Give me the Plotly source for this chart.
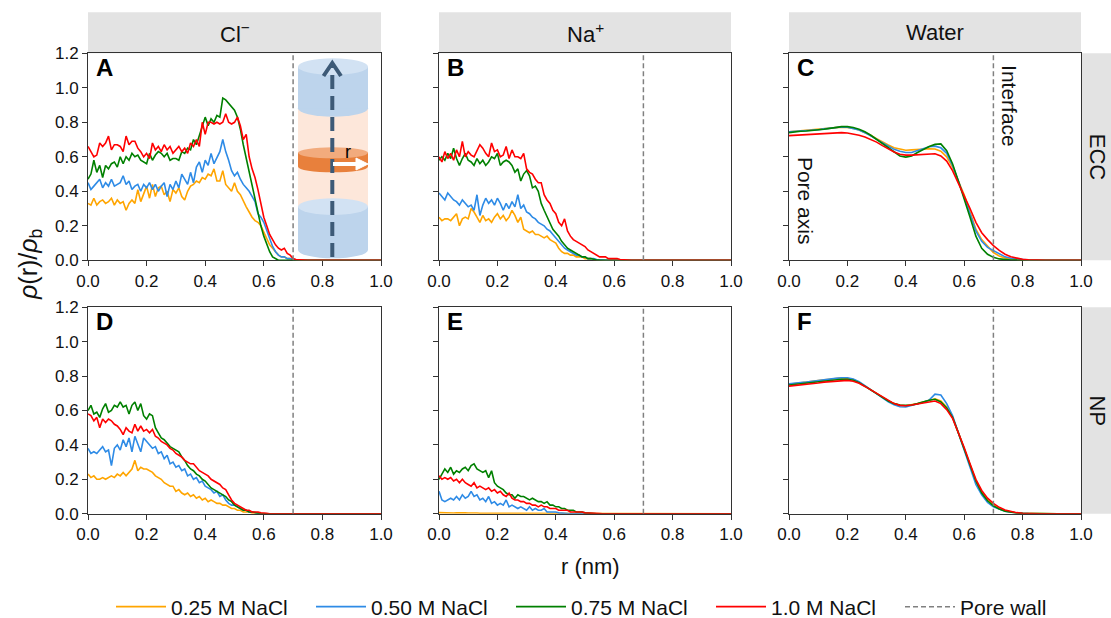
import numpy as np
import plotly.graph_objects as go

# ---------------- data ----------------
R_ION = np.round(np.arange(0, 101) * 0.01, 2)   # r (nm) grid for ion profiles
R_WAT = np.round(np.arange(0, 51) * 0.02, 2)    # r (nm) grid for water profiles
PORE_WALL = 0.7
X_TICKS = [0.0, 0.2, 0.4, 0.6, 0.8, 1.0]
Y_TICKS = [0.0, 0.2, 0.4, 0.6, 0.8, 1.0, 1.2]

SERIES = ["0.25 M NaCl", "0.50 M NaCl", "0.75 M NaCl", "1.0 M NaCl"]
COLORS = ["#FFA500", "#2E8BE6", "#008000", "#FF0000"]
COL_TITLES = ["Cl<sup>−</sup>", "Na<sup>+</sup>", "Water"]
ROW_TITLES = ["ECC", "NP"]
PANEL_LETTERS = ["A", "B", "C", "D", "E", "F"]

# A: Cl- , ECC
A_025 = [0.33, 0.32, 0.36, 0.32, 0.34, 0.35, 0.33, 0.34, 0.36, 0.32,
         0.35, 0.33, 0.34, 0.29, 0.33, 0.35, 0.33, 0.41, 0.34, 0.38,
         0.43, 0.36, 0.44, 0.37, 0.42, 0.43, 0.38, 0.40, 0.34, 0.41,
         0.39, 0.42, 0.37, 0.35, 0.40, 0.43, 0.44, 0.46, 0.45, 0.48,
         0.47, 0.50, 0.49, 0.53, 0.46, 0.46, 0.52, 0.44, 0.42, 0.40,
         0.45, 0.40, 0.38, 0.34, 0.31, 0.28, 0.25, 0.23, 0.22, 0.20,
         0.16, 0.12, 0.09, 0.07, 0.05, 0.03, 0.02, 0.02, 0.01, 0.01,
         0.005, 0.003, 0.002, 0.001, 0, 0, 0, 0, 0, 0,
         0, 0, 0, 0, 0, 0, 0, 0, 0, 0,
         0, 0, 0, 0, 0, 0, 0, 0, 0, 0, 0]
A_050 = [0.45, 0.41, 0.43, 0.45, 0.47, 0.42, 0.45, 0.43, 0.47, 0.43,
         0.44, 0.45, 0.49, 0.44, 0.46, 0.41, 0.43, 0.44, 0.40, 0.44,
         0.42, 0.45, 0.41, 0.44, 0.40, 0.43, 0.45, 0.37, 0.44, 0.41,
         0.46, 0.42, 0.50, 0.47, 0.44, 0.51, 0.45, 0.54, 0.57, 0.51,
         0.58, 0.55, 0.62, 0.56, 0.60, 0.63, 0.70, 0.63, 0.58, 0.52,
         0.49, 0.51, 0.47, 0.44, 0.42, 0.40, 0.37, 0.34, 0.27, 0.25,
         0.22, 0.17, 0.12, 0.08, 0.05, 0.03, 0.02, 0.02, 0.01, 0.01,
         0.005, 0.002, 0, 0, 0, 0, 0, 0, 0, 0,
         0, 0, 0, 0, 0, 0, 0, 0, 0, 0,
         0, 0, 0, 0, 0, 0, 0, 0, 0, 0, 0]
A_075 = [0.47, 0.50, 0.58, 0.51, 0.55, 0.48, 0.55, 0.53, 0.56, 0.57,
         0.54, 0.60, 0.56, 0.60, 0.58, 0.62, 0.60, 0.61, 0.58, 0.57,
         0.56, 0.62, 0.58, 0.61, 0.63, 0.62, 0.60, 0.62, 0.58, 0.59,
         0.59, 0.58, 0.63, 0.62, 0.65, 0.64, 0.70, 0.67, 0.72, 0.78,
         0.83, 0.78, 0.82, 0.80, 0.84, 0.83, 0.94, 0.93, 0.91, 0.89,
         0.87, 0.83, 0.76, 0.67, 0.59, 0.51, 0.43, 0.36, 0.27, 0.20,
         0.14, 0.09, 0.05, 0.02, 0.01, 0, 0, 0, 0, 0,
         0, 0, 0, 0, 0, 0, 0, 0, 0, 0,
         0, 0, 0, 0, 0, 0, 0, 0, 0, 0,
         0, 0, 0, 0, 0, 0, 0, 0, 0, 0, 0]
A_100 = [0.66, 0.63, 0.60, 0.61, 0.68, 0.66, 0.68, 0.72, 0.64, 0.67,
         0.67, 0.66, 0.63, 0.72, 0.67, 0.69, 0.69, 0.65, 0.63, 0.60,
         0.62, 0.59, 0.68, 0.64, 0.66, 0.63, 0.67, 0.64, 0.66, 0.62,
         0.64, 0.66, 0.63, 0.65, 0.62, 0.68, 0.66, 0.70, 0.66, 0.80,
         0.73, 0.80, 0.80, 0.79, 0.80, 0.79, 0.80, 0.85, 0.80, 0.79,
         0.80, 0.83, 0.78, 0.70, 0.73, 0.60, 0.53, 0.48, 0.41, 0.33,
         0.25, 0.20, 0.15, 0.12, 0.09, 0.07, 0.06, 0.07, 0.04, 0.03,
         0.01, 0.005, 0.003, 0.002, 0.001, 0, 0, 0, 0, 0,
         0, 0, 0, 0, 0, 0, 0, 0, 0, 0,
         0, 0, 0, 0, 0, 0, 0, 0, 0, 0, 0]

# B: Na+ , ECC
B_025 = [0.25, 0.23, 0.24, 0.24, 0.23, 0.25, 0.27, 0.20, 0.24, 0.25,
         0.24, 0.30, 0.28, 0.25, 0.22, 0.26, 0.23, 0.24, 0.22, 0.25,
         0.27, 0.24, 0.26, 0.23, 0.25, 0.29, 0.26, 0.22, 0.25, 0.18,
         0.17, 0.16, 0.17, 0.15, 0.15, 0.14, 0.13, 0.14, 0.12, 0.11,
         0.10, 0.07, 0.05, 0.04, 0.04, 0.03, 0.03, 0.02, 0.02, 0.02,
         0.01, 0.01, 0.01, 0.005, 0.003, 0.002, 0.001, 0, 0, 0,
         0, 0, 0, 0, 0, 0, 0, 0, 0, 0,
         0, 0, 0, 0, 0, 0, 0, 0, 0, 0,
         0, 0, 0, 0, 0, 0, 0, 0, 0, 0,
         0, 0, 0, 0, 0, 0, 0, 0, 0, 0, 0]
B_050 = [0.39, 0.37, 0.35, 0.39, 0.37, 0.35, 0.34, 0.32, 0.35, 0.33,
         0.31, 0.32, 0.29, 0.38, 0.26, 0.32, 0.36, 0.33, 0.35, 0.32,
         0.36, 0.33, 0.29, 0.33, 0.30, 0.34, 0.31, 0.38, 0.30, 0.32,
         0.28, 0.27, 0.25, 0.24, 0.22, 0.21, 0.20, 0.18, 0.17, 0.15,
         0.13, 0.11, 0.09, 0.07, 0.06, 0.05, 0.04, 0.03, 0.03, 0.02,
         0.02, 0.01, 0.01, 0.01, 0.005, 0.003, 0.001, 0, 0, 0,
         0, 0, 0, 0, 0, 0, 0, 0, 0, 0,
         0, 0, 0, 0, 0, 0, 0, 0, 0, 0,
         0, 0, 0, 0, 0, 0, 0, 0, 0, 0,
         0, 0, 0, 0, 0, 0, 0, 0, 0, 0, 0]
B_075 = [0.58, 0.60, 0.58, 0.62, 0.59, 0.65, 0.59, 0.55, 0.59, 0.62,
         0.58, 0.57, 0.55, 0.59, 0.56, 0.58, 0.55, 0.57, 0.60, 0.59,
         0.62, 0.55, 0.57, 0.58, 0.57, 0.55, 0.51, 0.53, 0.46, 0.50,
         0.52, 0.49, 0.42, 0.43, 0.40, 0.33, 0.29, 0.25, 0.22, 0.18,
         0.16, 0.14, 0.11, 0.09, 0.07, 0.06, 0.05, 0.04, 0.03, 0.02,
         0.02, 0.01, 0.01, 0.005, 0.002, 0.001, 0, 0, 0, 0,
         0, 0, 0, 0, 0, 0, 0, 0, 0, 0,
         0, 0, 0, 0, 0, 0, 0, 0, 0, 0,
         0, 0, 0, 0, 0, 0, 0, 0, 0, 0,
         0, 0, 0, 0, 0, 0, 0, 0, 0, 0, 0]
B_100 = [0.60, 0.57, 0.63, 0.59, 0.62, 0.58, 0.64, 0.60, 0.69, 0.60,
         0.63, 0.61, 0.60, 0.64, 0.67, 0.65, 0.62, 0.60, 0.68, 0.63,
         0.64, 0.60, 0.61, 0.66, 0.59, 0.64, 0.60, 0.60, 0.59, 0.62,
         0.53, 0.51, 0.50, 0.47, 0.45, 0.45, 0.38, 0.35, 0.33, 0.29,
         0.27, 0.22, 0.20, 0.24, 0.17, 0.14, 0.12, 0.11, 0.10, 0.09,
         0.08, 0.06, 0.05, 0.04, 0.03, 0.02, 0.02, 0.02, 0.01, 0.01,
         0.01, 0.01, 0.005, 0.003, 0.001, 0, 0, 0, 0, 0,
         0, 0, 0, 0, 0, 0, 0, 0, 0, 0,
         0, 0, 0, 0, 0, 0, 0, 0, 0, 0,
         0, 0, 0, 0, 0, 0, 0, 0, 0, 0, 0]

# C: Water , ECC (0.02 nm grid)
C_025 = [0.745, 0.748, 0.750, 0.752, 0.755, 0.758, 0.763, 0.766, 0.770, 0.772,
         0.770, 0.765, 0.755, 0.740, 0.725, 0.705, 0.685, 0.668, 0.652, 0.643,
         0.638, 0.640, 0.643, 0.645, 0.647, 0.645, 0.632, 0.600, 0.540, 0.460,
         0.380, 0.280, 0.180, 0.120, 0.080, 0.045, 0.025, 0.014, 0.008, 0.004,
         0.002, 0.001, 0, 0, 0, 0, 0, 0, 0, 0, 0]
C_050 = [0.745, 0.747, 0.750, 0.752, 0.754, 0.757, 0.762, 0.765, 0.770, 0.773,
         0.771, 0.765, 0.755, 0.740, 0.720, 0.700, 0.680, 0.660, 0.643, 0.632,
         0.625, 0.625, 0.635, 0.648, 0.658, 0.662, 0.652, 0.620, 0.550, 0.460,
         0.370, 0.270, 0.170, 0.110, 0.075, 0.055, 0.035, 0.020, 0.012, 0.007,
         0.003, 0.001, 0, 0, 0, 0, 0, 0, 0, 0, 0]
C_075 = [0.740, 0.745, 0.748, 0.750, 0.752, 0.755, 0.760, 0.765, 0.770, 0.775,
         0.775, 0.770, 0.760, 0.745, 0.725, 0.700, 0.675, 0.650, 0.625, 0.605,
         0.598, 0.605, 0.625, 0.645, 0.660, 0.672, 0.675, 0.635, 0.560, 0.460,
         0.360, 0.250, 0.140, 0.070, 0.035, 0.017, 0.008, 0.004, 0.002, 0.001,
         0, 0, 0, 0, 0, 0, 0, 0, 0, 0, 0]
C_100 = [0.723, 0.725, 0.727, 0.728, 0.730, 0.733, 0.735, 0.737, 0.740, 0.740,
         0.738, 0.733, 0.725, 0.715, 0.700, 0.685, 0.665, 0.645, 0.628, 0.615,
         0.610, 0.610, 0.612, 0.615, 0.618, 0.618, 0.605, 0.575, 0.520, 0.450,
         0.380, 0.300, 0.220, 0.160, 0.120, 0.085, 0.057, 0.035, 0.020, 0.011,
         0.006, 0.003, 0.001, 0, 0, 0, 0, 0, 0, 0, 0]

# D: Cl- , NP
D_025 = [0.23, 0.21, 0.22, 0.20, 0.20, 0.21, 0.20, 0.21, 0.22, 0.21,
         0.23, 0.22, 0.24, 0.22, 0.24, 0.26, 0.31, 0.25, 0.27, 0.26,
         0.26, 0.25, 0.24, 0.22, 0.21, 0.20, 0.18, 0.17, 0.16, 0.16,
         0.13, 0.14, 0.12, 0.11, 0.12, 0.10, 0.11, 0.09, 0.10, 0.08,
         0.09, 0.07, 0.08, 0.07, 0.06, 0.06, 0.05, 0.05, 0.04, 0.03,
         0.03, 0.02, 0.02, 0.01, 0.01, 0.01, 0.005, 0.003, 0.001, 0,
         0, 0, 0, 0, 0, 0, 0, 0, 0, 0,
         0, 0, 0, 0, 0, 0, 0, 0, 0, 0,
         0, 0, 0, 0, 0, 0, 0, 0, 0, 0,
         0, 0, 0, 0, 0, 0, 0, 0, 0, 0, 0]
D_050 = [0.38, 0.35, 0.36, 0.35, 0.37, 0.39, 0.36, 0.37, 0.28, 0.38,
         0.40, 0.37, 0.43, 0.39, 0.44, 0.36, 0.45, 0.40, 0.36, 0.44,
         0.42, 0.40, 0.38, 0.39, 0.35, 0.36, 0.32, 0.34, 0.29, 0.30,
         0.27, 0.28, 0.25, 0.26, 0.22, 0.23, 0.20, 0.21, 0.18, 0.19,
         0.16, 0.15, 0.14, 0.12, 0.13, 0.10, 0.11, 0.08, 0.06, 0.05,
         0.05, 0.04, 0.03, 0.02, 0.02, 0.01, 0.01, 0.005, 0.003, 0.001,
         0, 0, 0, 0, 0, 0, 0, 0, 0, 0,
         0, 0, 0, 0, 0, 0, 0, 0, 0, 0,
         0, 0, 0, 0, 0, 0, 0, 0, 0, 0,
         0, 0, 0, 0, 0, 0, 0, 0, 0, 0, 0]
D_075 = [0.60, 0.63, 0.58, 0.59, 0.56, 0.61, 0.64, 0.59, 0.60, 0.63,
         0.62, 0.65, 0.62, 0.63, 0.58, 0.63, 0.65, 0.60, 0.64, 0.57,
         0.55, 0.58, 0.57, 0.50, 0.47, 0.44, 0.43, 0.41, 0.39, 0.38,
         0.37, 0.36, 0.33, 0.31, 0.28, 0.26, 0.25, 0.23, 0.22, 0.20,
         0.19, 0.17, 0.15, 0.14, 0.13, 0.12, 0.11, 0.10, 0.08, 0.07,
         0.05, 0.04, 0.03, 0.02, 0.02, 0.01, 0.01, 0.005, 0.003, 0.001,
         0, 0, 0, 0, 0, 0, 0, 0, 0, 0,
         0, 0, 0, 0, 0, 0, 0, 0, 0, 0,
         0, 0, 0, 0, 0, 0, 0, 0, 0, 0,
         0, 0, 0, 0, 0, 0, 0, 0, 0, 0, 0]
D_100 = [0.58, 0.57, 0.54, 0.56, 0.50, 0.55, 0.53, 0.55, 0.54, 0.52,
         0.51, 0.49, 0.46, 0.50, 0.48, 0.47, 0.52, 0.48, 0.51, 0.48,
         0.49, 0.47, 0.49, 0.45, 0.44, 0.42, 0.41, 0.40, 0.38, 0.37,
         0.35, 0.34, 0.33, 0.31, 0.30, 0.29, 0.29, 0.27, 0.25, 0.24,
         0.23, 0.22, 0.20, 0.19, 0.18, 0.17, 0.15, 0.14, 0.11, 0.08,
         0.06, 0.05, 0.04, 0.03, 0.02, 0.02, 0.01, 0.01, 0.01, 0.005,
         0.005, 0.003, 0, 0, 0, 0, 0, 0, 0, 0,
         0, 0, 0, 0, 0, 0, 0, 0, 0, 0,
         0, 0, 0, 0, 0, 0, 0, 0, 0, 0,
         0, 0, 0, 0, 0, 0, 0, 0, 0, 0, 0]

# E: Na+ , NP
E_025 = [0.006, 0.005, 0.007, 0.005, 0.006, 0.004, 0.005, 0.006, 0.004, 0.005,
         0.004, 0.005, 0.003, 0.004, 0.003, 0.004, 0.003, 0.002, 0.003, 0.002,
         0.002, 0.002, 0.001, 0.002, 0.001, 0.001, 0.001, 0.001, 0, 0,
         0, 0, 0, 0, 0, 0, 0, 0, 0, 0,
         0, 0, 0, 0, 0, 0, 0, 0, 0, 0,
         0, 0, 0, 0, 0, 0, 0, 0, 0, 0,
         0, 0, 0, 0, 0, 0, 0, 0, 0, 0,
         0, 0, 0, 0, 0, 0, 0, 0, 0, 0,
         0, 0, 0, 0, 0, 0, 0, 0, 0, 0,
         0, 0, 0, 0, 0, 0, 0, 0, 0, 0, 0]
E_050 = [0.13, 0.08, 0.07, 0.08, 0.09, 0.08, 0.10, 0.08, 0.11, 0.09,
         0.10, 0.13, 0.10, 0.11, 0.08, 0.09, 0.07, 0.10, 0.06, 0.07,
         0.05, 0.06, 0.05, 0.08, 0.04, 0.05, 0.04, 0.03, 0.04, 0.03,
         0.02, 0.04, 0.02, 0.03, 0.02, 0.02, 0.03, 0.01, 0.01, 0.01,
         0.01, 0.005, 0.003, 0.001, 0, 0, 0, 0, 0, 0,
         0, 0, 0, 0, 0, 0, 0, 0, 0, 0,
         0, 0, 0, 0, 0, 0, 0, 0, 0, 0,
         0, 0, 0, 0, 0, 0, 0, 0, 0, 0,
         0, 0, 0, 0, 0, 0, 0, 0, 0, 0,
         0, 0, 0, 0, 0, 0, 0, 0, 0, 0, 0]
E_075 = [0.20, 0.23, 0.26, 0.24, 0.27, 0.23, 0.25, 0.24, 0.26, 0.27,
         0.25, 0.28, 0.29, 0.26, 0.25, 0.24, 0.25, 0.21, 0.25, 0.18,
         0.16, 0.15, 0.14, 0.12, 0.11, 0.11, 0.09, 0.11, 0.10, 0.10,
         0.09, 0.08, 0.09, 0.08, 0.07, 0.07, 0.06, 0.07, 0.05, 0.05,
         0.04, 0.04, 0.03, 0.03, 0.02, 0.02, 0.02, 0.01, 0.01, 0.01,
         0.005, 0.003, 0.001, 0, 0, 0, 0, 0, 0, 0,
         0, 0, 0, 0, 0, 0, 0, 0, 0, 0,
         0, 0, 0, 0, 0, 0, 0, 0, 0, 0,
         0, 0, 0, 0, 0, 0, 0, 0, 0, 0,
         0, 0, 0, 0, 0, 0, 0, 0, 0, 0, 0]
E_100 = [0.22, 0.20, 0.21, 0.20, 0.21, 0.19, 0.20, 0.18, 0.20, 0.18,
         0.17, 0.16, 0.18, 0.15, 0.16, 0.15, 0.14, 0.15, 0.13, 0.14,
         0.12, 0.13, 0.11, 0.10, 0.12, 0.09, 0.08, 0.08, 0.07, 0.07,
         0.06, 0.06, 0.05, 0.05, 0.04, 0.05, 0.04, 0.04, 0.03, 0.03,
         0.03, 0.02, 0.02, 0.02, 0.02, 0.01, 0.01, 0.01, 0.01, 0.01,
         0.005, 0.005, 0.003, 0.003, 0.002, 0.001, 0, 0, 0, 0,
         0, 0, 0, 0, 0, 0, 0, 0, 0, 0,
         0, 0, 0, 0, 0, 0, 0, 0, 0, 0,
         0, 0, 0, 0, 0, 0, 0, 0, 0, 0,
         0, 0, 0, 0, 0, 0, 0, 0, 0, 0, 0]

# F: Water , NP (0.02 nm grid)
F_025 = [0.752, 0.757, 0.760, 0.765, 0.768, 0.773, 0.778, 0.782, 0.786, 0.790,
         0.787, 0.780, 0.765, 0.745, 0.720, 0.700, 0.678, 0.656, 0.640, 0.630,
         0.628, 0.632, 0.640, 0.650, 0.660, 0.668, 0.655, 0.620, 0.565, 0.470,
         0.380, 0.280, 0.190, 0.125, 0.080, 0.050, 0.030, 0.017, 0.009, 0.004,
         0.002, 0.001, 0, 0, 0, 0, 0, 0, 0, 0, 0]
F_050 = [0.755, 0.760, 0.763, 0.765, 0.770, 0.775, 0.780, 0.783, 0.787, 0.790,
         0.790, 0.783, 0.767, 0.745, 0.720, 0.695, 0.670, 0.650, 0.633, 0.622,
         0.620, 0.628, 0.638, 0.648, 0.660, 0.695, 0.690, 0.640, 0.570, 0.470,
         0.360, 0.260, 0.170, 0.110, 0.065, 0.040, 0.025, 0.014, 0.008, 0.004,
         0.002, 0.001, 0, 0, 0, 0, 0, 0, 0, 0, 0]
F_075 = [0.748, 0.752, 0.755, 0.758, 0.762, 0.766, 0.772, 0.775, 0.780, 0.782,
         0.782, 0.776, 0.762, 0.742, 0.720, 0.698, 0.676, 0.655, 0.640, 0.632,
         0.630, 0.632, 0.640, 0.650, 0.660, 0.665, 0.650, 0.615, 0.560, 0.470,
         0.375, 0.280, 0.190, 0.120, 0.075, 0.045, 0.027, 0.015, 0.008, 0.004,
         0.002, 0.001, 0, 0, 0, 0, 0, 0, 0, 0, 0]
F_100 = [0.742, 0.745, 0.748, 0.752, 0.756, 0.760, 0.765, 0.768, 0.772, 0.775,
         0.775, 0.770, 0.758, 0.740, 0.720, 0.698, 0.676, 0.655, 0.640, 0.630,
         0.628, 0.632, 0.638, 0.645, 0.652, 0.655, 0.640, 0.605, 0.555, 0.475,
         0.385, 0.290, 0.200, 0.135, 0.090, 0.060, 0.037, 0.021, 0.012, 0.006,
         0.003, 0.001, 0, 0, 0, 0, 0, 0, 0, 0, 0]

PANELS = [
    (R_ION, [A_025, A_050, A_075, A_100]),
    (R_ION, [B_025, B_050, B_075, B_100]),
    (R_WAT, [C_025, C_050, C_075, C_100]),
    (R_ION, [D_025, D_050, D_075, D_100]),
    (R_ION, [E_025, E_050, E_075, E_100]),
    (R_WAT, [F_025, F_050, F_075, F_100]),
]

# ---------------- layout geometry ----------------
FW, FH = 1111, 618


def xp(px):   # page pixel -> paper x
    return px / FW


def yp(py):   # page pixel -> paper y
    return 1 - py / FH


FONT = "Liberation Sans, Arial, Helvetica, sans-serif"
COLS = [(xp(88), xp(381)), (xp(439), xp(731)), (xp(789), xp(1081))]
ROWS = [(yp(260.3), yp(53.3)), (yp(513.7), yp(307.3))]
STRIP_TOP = (yp(53.3), yp(12.3))
STRIP_RIGHT = (xp(1082), 1.0)
STRIP_COLOR = "#e3e3e3"
AX_COLOR = "#333333"

fig = go.Figure()
legend_widths = [135, 135, 135, 124, 110]

for k, (rgrid, series) in enumerate(PANELS):
    xa = "x" if k == 0 else f"x{k+1}"
    ya = "y" if k == 0 else f"y{k+1}"
    for s, vals in enumerate(series):
        fig.add_trace(go.Scatter(
            x=rgrid[:len(vals)], y=vals, mode="lines", name=SERIES[s],
            line=dict(color=COLORS[s], width=1.6),
            xaxis=xa, yaxis=ya, showlegend=(k == 0), cliponaxis=False,
            legendwidth=legend_widths[s], hoverinfo="skip"))
    fig.add_trace(go.Scatter(
        x=[PORE_WALL, PORE_WALL], y=[Y_TICKS[0], Y_TICKS[-1]], mode="lines",
        name="Pore wall", line=dict(color="#808080", width=1.5, dash="5px,3px"),
        xaxis=xa, yaxis=ya, showlegend=(k == 0), legendwidth=legend_widths[4],
        hoverinfo="skip"))

layout = dict(
    width=FW, height=FH, autosize=False,
    margin=dict(l=0, r=0, t=0, b=0, pad=0, autoexpand=False),
    paper_bgcolor="white", plot_bgcolor="white",
    font=dict(family=FONT, size=17, color="#111"),
    showlegend=True,
    legend=dict(orientation="h", x=xp(593), xanchor="center", y=yp(607), yanchor="middle",
                font=dict(size=21, family=FONT, color="#111"), itemwidth=50,
                bgcolor="rgba(0,0,0,0)", traceorder="normal"),
)
for k in range(6):
    r, c = divmod(k, 3)
    sx = "" if k == 0 else str(k + 1)
    layout[f"xaxis{sx}"] = dict(
        domain=list(COLS[c]), range=[0, 1], anchor=f"y{sx}", automargin=False,
        tickvals=X_TICKS, ticktext=[f"{v:.1f}" for v in X_TICKS],
        showline=True, mirror=True, linecolor=AX_COLOR, linewidth=1,
        ticks="outside", ticklen=5, tickcolor=AX_COLOR, showgrid=False,
        zeroline=False, layer="below traces", tickfont=dict(size=17))
    layout[f"yaxis{sx}"] = dict(
        domain=list(ROWS[r]), range=[0, 1.2], anchor=f"x{sx}", automargin=False,
        tickvals=Y_TICKS, ticktext=[f"{v:.1f}" for v in Y_TICKS],
        showticklabels=(c == 0),
        showline=True, mirror=True, linecolor=AX_COLOR, linewidth=1,
        ticks="outside", ticklen=5, tickcolor=AX_COLOR, showgrid=False,
        zeroline=False, layer="below traces", tickfont=dict(size=17))
fig.update_layout(**layout)

shapes = []
annots = []
# top strips
for c in range(3):
    shapes.append(dict(type="rect", xref="paper", yref="paper",
                       x0=COLS[c][0], x1=COLS[c][1], y0=STRIP_TOP[0], y1=STRIP_TOP[1],
                       fillcolor=STRIP_COLOR, line=dict(width=0), layer="below"))
    annots.append(dict(text=COL_TITLES[c], xref="paper", yref="paper",
                       x=(COLS[c][0] + COLS[c][1]) / 2, y=(STRIP_TOP[0] + STRIP_TOP[1]) / 2,
                       showarrow=False, font=dict(size=22, color="#111"),
                       xanchor="center", yanchor="middle"))
# right strips
for r in range(2):
    shapes.append(dict(type="rect", xref="paper", yref="paper",
                       x0=STRIP_RIGHT[0], x1=1.02, y0=ROWS[r][0], y1=ROWS[r][1],
                       fillcolor=STRIP_COLOR, line=dict(width=0), layer="below"))
    annots.append(dict(text=ROW_TITLES[r], xref="paper", yref="paper",
                       x=xp(1097), y=(ROWS[r][0] + ROWS[r][1]) / 2,
                       textangle=90, showarrow=False, font=dict(size=22, color="#111"),
                       xanchor="center", yanchor="middle"))
# panel letters
for k in range(6):
    sx = "" if k == 0 else str(k + 1)
    annots.append(dict(text=f"<b>{PANEL_LETTERS[k]}</b>", xref=f"x{sx} domain",
                       yref=f"y{sx} domain", x=0.022, y=1.005, xanchor="left",
                       yanchor="top", showarrow=False, font=dict(size=24, color="black")))
# texts in panel C
annots.append(dict(text="Pore axis", xref="x3", yref="y3", x=0.055, y=0.344,
                   xanchor="center", yanchor="middle",
                   textangle=90, showarrow=False, font=dict(size=21, color="#111")))
annots.append(dict(text="Interface", xref="x3", yref="y3", x=0.757, y=0.894,
                   xanchor="center", yanchor="middle",
                   textangle=90, showarrow=False, font=dict(size=21, color="#111")))
# axis titles
annots.append(dict(text="<i>ρ</i>(r)/<i>ρ</i><sub>b</sub>", xref="paper", yref="paper",
                   x=xp(30), y=yp(265), xanchor="center", yanchor="middle",
                   textangle=-90, showarrow=False, font=dict(size=25, color="#111")))
annots.append(dict(text="r (nm)", xref="paper", yref="paper", x=xp(590), y=yp(566),
                   xanchor="center", yanchor="middle",
                   showarrow=False, font=dict(size=22, color="#111")))

# ---------------- inset cylinder illustration in panel A ----------------
def px_x(px):
    return (px - 88) / 293


def px_y(py):
    return (260.3 - py) / 172.5


def rect(x0, x1, py0, py1, color):
    return dict(type="rect", xref="x", yref="y", x0=px_x(x0), x1=px_x(x1),
                y0=px_y(py1), y1=px_y(py0), fillcolor=color, line=dict(width=0))


def ell(x0, x1, py0, py1, color):
    return dict(type="circle", xref="x", yref="y", x0=px_x(x0), x1=px_x(x1),
                y0=px_y(py1), y1=px_y(py0), fillcolor=color, line=dict(width=0))


BLUE_BODY, BLUE_TOP = "#bdd4ec", "#d2e2f3"
OR_BODY, OR_TOP = "#e8803c", "#f2ab7d"
PEACH = "#fde7da"
CX0, CX1 = 298, 368
shapes += [
    rect(CX0, CX1, 68, 250, PEACH),
    # bottom cylinder
    ell(CX0, CX1, 241.7, 258.3, BLUE_BODY),
    rect(CX0, CX1, 206.6, 250, BLUE_BODY),
    ell(CX0, CX1, 198.3, 214.9, BLUE_TOP),
    # orange disk
    ell(CX0, CX1, 161.3, 172.3, OR_BODY),
    rect(CX0, CX1, 152.8, 166.8, OR_BODY),
    ell(CX0, CX1, 147.3, 158.3, OR_TOP),
    # top cylinder
    ell(CX0, CX1, 100.0, 116.7, BLUE_BODY),
    rect(CX0, CX1, 66.7, 108.3, BLUE_BODY),
    ell(CX0, CX1, 58.3, 75.0, BLUE_TOP),
    # dashed pore-axis arrow
    dict(type="line", xref="x", yref="y", x0=px_x(332.3), x1=px_x(332.3),
         y0=px_y(257), y1=px_y(66), line=dict(color="#3d5a77", width=4, dash="14px,7px")),
    dict(type="path", xref="x", yref="y",
         path=f"M{px_x(323.5)},{px_y(76)} L{px_x(332.3)},{px_y(63)} L{px_x(341)},{px_y(76)}",
         line=dict(color="#3d5a77", width=4)),
    # white radial arrow
    dict(type="line", xref="x", yref="y", x0=px_x(333), x1=px_x(358),
         y0=px_y(164), y1=px_y(164), line=dict(color="white", width=4)),
    dict(type="path", xref="x", yref="y",
         path=f"M{px_x(356)},{px_y(158)} L{px_x(368)},{px_y(164)} L{px_x(356)},{px_y(170)} Z",
         fillcolor="white", line=dict(color="white", width=1)),
]
annots.append(dict(text="r", xref="x", yref="y", x=px_x(348), y=px_y(152),
                   showarrow=False, font=dict(size=18, color="black")))

fig.update_layout(shapes=shapes, annotations=annots)
# remove the browser's default 8px page margin so the figure fills the window
fig.write_html("out.html", config={"displayModeBar": False},
               post_script="document.body.style.margin='0px';"
                           "document.body.style.overflow='hidden';")
